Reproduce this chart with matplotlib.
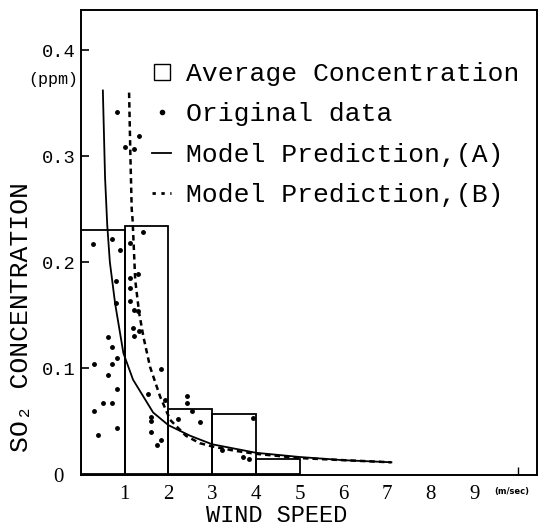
import matplotlib
matplotlib.use("Agg")
import matplotlib.pyplot as plt
from matplotlib.lines import Line2D

MONO = ["Liberation Mono", "DejaVu Sans Mono"]
SERIF = ["Liberation Serif", "DejaVu Serif"]

# average concentration per wind speed class (m/sec)
bin_left = [0, 1, 2, 3, 4]
avg_conc = [0.230, 0.234, 0.061, 0.057, 0.014]

# original data points
data_x = [0.82, 1.32, 1.01, 1.22, 0.70, 0.89, 1.41, 0.27, 1.13, 0.80,
          1.12, 1.31, 1.11, 0.80, 1.13, 1.22, 1.31, 1.18, 1.33, 1.22,
          0.61, 0.70, 0.30, 0.71, 0.82, 0.61, 0.82, 0.51, 0.71, 0.30,
          0.82, 0.40, 1.83, 1.53, 1.93, 1.60, 1.60, 2.22, 1.60, 1.83,
          1.73, 2.43, 2.43, 2.53, 2.72, 3.94, 3.22, 3.71, 3.84]
data_y = [0.342, 0.319, 0.309, 0.307, 0.222, 0.211, 0.228, 0.217, 0.218, 0.182,
          0.185, 0.189, 0.176, 0.161, 0.163, 0.155, 0.154, 0.138, 0.135, 0.130,
          0.129, 0.120, 0.104, 0.104, 0.109, 0.093, 0.080, 0.067, 0.067, 0.059,
          0.043, 0.037, 0.099, 0.075, 0.070, 0.054, 0.050, 0.052, 0.040, 0.032,
          0.027, 0.074, 0.067, 0.059, 0.049, 0.053, 0.023, 0.016, 0.014]

# model prediction (A), solid
model_a_x = [0.50, 0.55, 0.60, 0.66, 0.78, 0.97, 1.19, 1.65, 2.0, 2.5,
             3.0, 3.5, 4.0, 5.0, 6.0, 7.1]
model_a_y = [0.362, 0.280, 0.235, 0.200, 0.161, 0.114, 0.089, 0.058, 0.046, 0.036,
             0.028, 0.024, 0.020, 0.016, 0.013, 0.011]

# model prediction (B), dotted
model_b_x = [1.10, 1.13, 1.16, 1.18, 1.24, 1.33, 1.43, 1.58, 1.81, 2.04,
             2.4, 2.72, 3.0, 3.5, 4.0, 5.0, 6.0, 7.1]
model_b_y = [0.360, 0.300, 0.250, 0.240, 0.183, 0.152, 0.129, 0.101, 0.073, 0.051,
             0.036, 0.029, 0.026, 0.022, 0.019, 0.015, 0.013, 0.011]

xticks = [1, 2, 3, 4, 5, 6, 7, 8, 9]
yticks = [0.1, 0.2, 0.3, 0.4]

fig = plt.figure(figsize=(5.49, 5.30), dpi=100)
ax = fig.add_axes([81 / 549, 1 - 475 / 530, 456 / 549, 465 / 530])

ax.bar(bin_left, avg_conc, width=1.0, align="edge", fill=False,
       edgecolor="black", linewidth=1.3)
ax.plot(data_x, data_y, "o", color="black", markersize=2.5, linestyle="none")
ax.plot(model_a_x, model_a_y, color="black", linewidth=1.3)
ax.plot(model_b_x, model_b_y, color="black", linewidth=1.8,
        linestyle=(0, (2.2, 1.6)))

ax.set_xlim(0, 10.43)
ax.set_ylim(-0.001, 0.438)

ax.set_xticks(xticks)
ax.set_xticklabels([str(t) for t in xticks], family=SERIF, fontsize=15)
ax.set_xticks([10], minor=True)
ax.tick_params(axis="x", which="major", length=0, pad=7)
ax.tick_params(axis="x", which="minor", direction="in", length=6, width=1)

ax.set_yticks(yticks)
ax.set_yticklabels([f"{t:.1f}" for t in yticks], family=MONO, fontsize=13.5)
ax.tick_params(axis="y", direction="in", length=6, width=1.2, pad=4)

for sp in ax.spines.values():
    sp.set_linewidth(1.4)

ax.text(-0.007, 0.85, "(ppm)", transform=ax.transAxes, ha="right", va="center",
        family=MONO, fontsize=12)
ax.text(-0.05, -0.005, "0", transform=ax.transAxes, ha="center", va="center",
        family=SERIF, fontsize=15)
ax.text(0.945, -0.035, "(m/sec)", transform=ax.transAxes, ha="center", va="center",
        family=["DejaVu Sans"], fontsize=6, fontweight="bold")

ax.set_xlabel("WIND SPEED", family=MONO, fontsize=17)
ax.xaxis.set_label_coords(0.43, -0.063)
ax.set_ylabel("SO₂ CONCENTRATION", family=MONO, fontsize=19)
ax.yaxis.set_label_coords(-0.105, 0.34)

handles = [
    Line2D([], [], marker="s", markerfacecolor="none", markeredgecolor="black",
           linestyle="none", markersize=11, markeredgewidth=1.0),
    Line2D([], [], marker="o", color="black", markersize=3, linestyle="none"),
    Line2D([], [], color="black", linewidth=1.3),
    Line2D([], [], color="black", linewidth=2, linestyle=(0, (1.2, 2.0))),
]
labels = ["Average Concentration", "Original data",
          "Model Prediction,(A)", "Model Prediction,(B)"]
ax.legend(handles, labels, loc="upper left", bbox_to_anchor=(0.155, 0.888),
          frameon=False, prop={"family": MONO, "size": 19},
          handlelength=0.75, handletextpad=0.55, labelspacing=0.62,
          borderpad=0, borderaxespad=0)

fig.savefig("out.png", dpi=100)
